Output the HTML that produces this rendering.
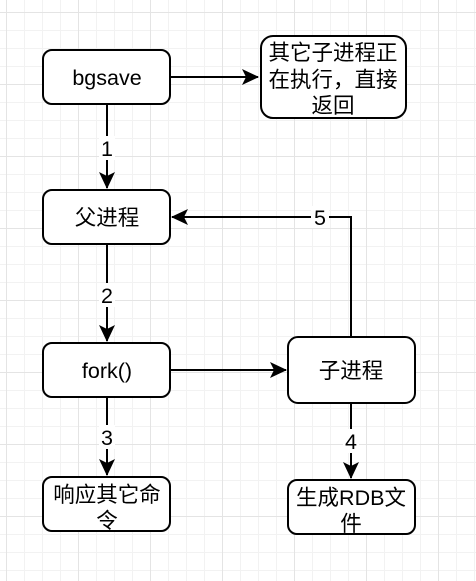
<!DOCTYPE html>
<html><head><meta charset="utf-8"><style>
html,body{margin:0;padding:0;}
body{width:476px;height:581px;overflow:hidden;background:#fff;
background-image:
linear-gradient(to right,#e4e4e4 1px,transparent 1px),
linear-gradient(to bottom,#e4e4e4 1px,transparent 1px),
linear-gradient(to right,#f2f2f2 1px,transparent 1px),
linear-gradient(to bottom,#f2f2f2 1px,transparent 1px);
background-size:72px 72px,72px 72px,18px 18px,18px 18px;
background-position:6px 12px,6px 12px,6px 12px,6px 12px;}
svg text{font-family:"Liberation Sans","Noto Sans CJK SC",sans-serif;font-size:21.5px;fill:#000;}
</style></head><body>
<svg width="476" height="581" style="position:absolute;left:0;top:0">
<defs><marker id="a" markerWidth="18" markerHeight="16" refX="16" refY="8" orient="auto" markerUnits="userSpaceOnUse"><path d="M0,0 L17,8 L0,16 L4,8 Z" fill="#000"/></marker></defs>
<g stroke="#000" stroke-width="2" fill="none">
<line x1="170" y1="77" x2="258" y2="77" marker-end="url(#a)"/>
<line x1="107" y1="104" x2="107" y2="188" marker-end="url(#a)"/>
<line x1="107" y1="244" x2="107" y2="341" marker-end="url(#a)"/>
<line x1="107" y1="397" x2="107" y2="475" marker-end="url(#a)"/>
<line x1="170" y1="370" x2="286" y2="370" marker-end="url(#a)"/>
<line x1="351" y1="403" x2="351" y2="478" marker-end="url(#a)"/>
<polyline points="351,337 351,217 172,217" marker-end="url(#a)"/>
</g>
<g fill="#fff" stroke="#000" stroke-width="2">
<rect x="43" y="50" width="127" height="54" rx="9"/>
<rect x="261" y="36" width="145" height="82" rx="12"/>
<rect x="43" y="190" width="127" height="54" rx="9"/>
<rect x="43" y="343" width="127" height="54" rx="9"/>
<rect x="288" y="337" width="127" height="66" rx="10"/>
<rect x="43" y="477" width="127" height="54" rx="9"/>
<rect x="288" y="480" width="127" height="54" rx="9"/>
</g>
<g fill="#fff"><rect x="99" y="136" width="16" height="24"/><rect x="99" y="283" width="16" height="24"/><rect x="99" y="425" width="16" height="24"/><rect x="343" y="429" width="16" height="24"/><rect x="311" y="206" width="18" height="22"/></g>
<g text-anchor="middle">
<text x="107" y="85">bgsave</text>
<text x="333" y="60">其它子进程正</text>
<text x="333" y="87">在执行，直接</text>
<text x="333" y="113">返回</text>
<text x="107" y="225">父进程</text>
<text x="107" y="378">fork()</text>
<text x="351" y="378">子进程</text>
<text x="107" y="502">响应其它命</text>
<text x="107" y="528">令</text>
<text x="351" y="505">生成RDB文</text>
<text x="351" y="531">件</text>
<text x="107" y="156">1</text>
<text x="107" y="303">2</text>
<text x="107" y="445">3</text>
<text x="351" y="449">4</text>
<text x="320" y="225">5</text>
</g>
</svg>
</body></html>
